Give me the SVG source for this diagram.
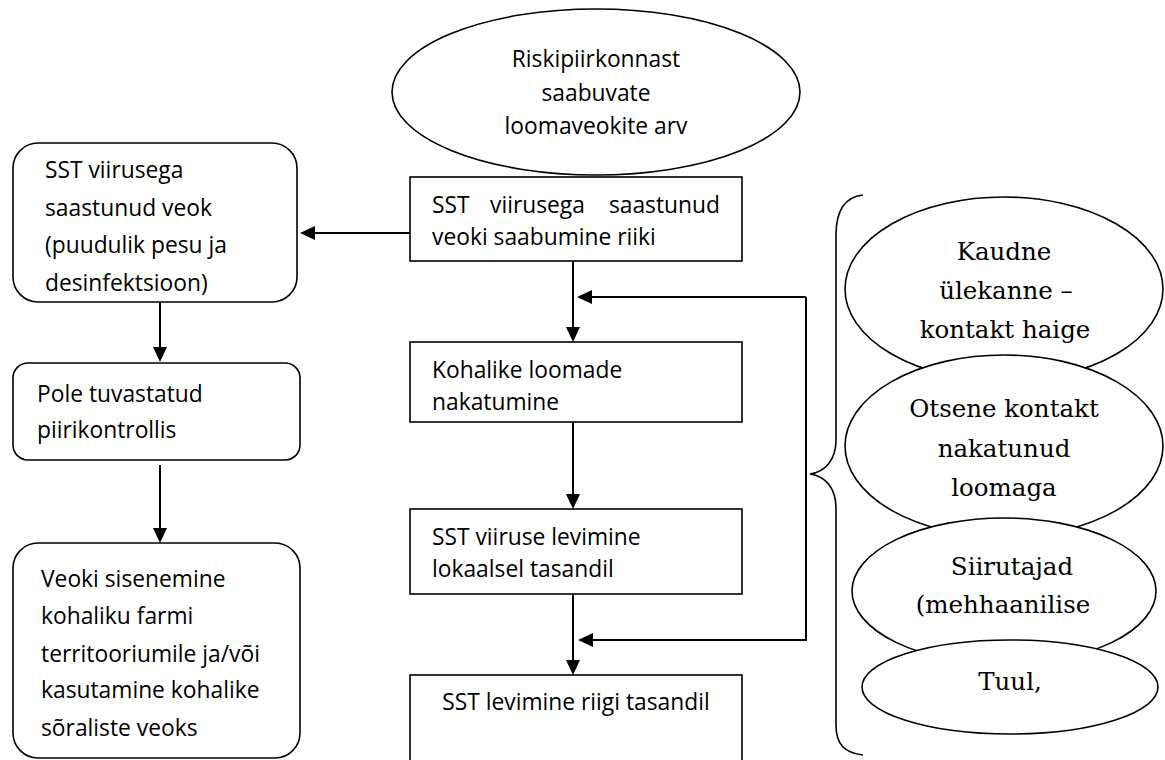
<svg xmlns="http://www.w3.org/2000/svg" width="1165" height="760" viewBox="0 0 1165 760">
<style>
.box{fill:#fff;stroke:#000;stroke-width:1.6}
.ell{fill:#fff;stroke:#000;stroke-width:1.6}
.t{font-family:"Open Sans","Liberation Sans",sans-serif;font-size:22.8px;fill:#000}
.s{font-family:"DejaVu Serif","Liberation Serif",serif;font-size:24.5px;fill:#000;text-anchor:middle}
.c{text-anchor:middle}
.ln{fill:none;stroke:#000;stroke-width:2}
</style>
<defs>
<marker id="ah" viewBox="0 0 15 14" refX="0" refY="7" markerWidth="15" markerHeight="14" markerUnits="userSpaceOnUse" orient="auto">
<path d="M0,0 L15,7 L0,14 z" fill="#000"/>
</marker>
</defs>
<rect width="1165" height="760" fill="#fff"/>

<g id="connectors">
<line class="ln" x1="410" y1="233" x2="315" y2="233" marker-end="url(#ah)"/>
<line class="ln" x1="573" y1="261" x2="573" y2="327" marker-end="url(#ah)"/>
<line class="ln" x1="573" y1="422" x2="573" y2="494" marker-end="url(#ah)"/>
<line class="ln" x1="573" y1="594" x2="573" y2="660" marker-end="url(#ah)"/>
<path class="ln" d="M806 297 L592 297" marker-end="url(#ah)"/>
<path class="ln" d="M806 297 L806 640 L593 640" marker-end="url(#ah)"/>
<line class="ln" x1="160" y1="302" x2="160" y2="347" marker-end="url(#ah)"/>
<line class="ln" x1="160" y1="465" x2="160" y2="528" marker-end="url(#ah)"/>
<path fill="none" stroke="#000" stroke-width="1.6" d="M863 195 C845 197 836 210 836 235 L836 440 C836 460 825 472 810 474 C825 476 836 488 836 508 L836 725 C836 745 845 753 863 755"/>
</g>

<g id="top-ellipse">
<ellipse class="ell" cx="596" cy="92" rx="204" ry="83"/>
<text class="t c" x="596" y="67">Riskipiirkonnast</text>
<text class="t c" x="596" y="101">saabuvate</text>
<text class="t c" x="596" y="134">loomaveokite arv</text>
</g>

<g id="box-arrival">
<rect class="box" x="410" y="177" width="332" height="84"/>
<text class="t" x="432" y="213">SST</text>
<text class="t" x="490" y="213">viirusega</text>
<text class="t" x="720" y="213" text-anchor="end">saastunud</text>
<text class="t" x="432" y="245">veoki saabumine riiki</text>
</g>

<g id="box-infection">
<rect class="box" x="410" y="342" width="332" height="80"/>
<text class="t" x="432" y="378">Kohalike loomade</text>
<text class="t" x="432" y="410">nakatumine</text>
</g>

<g id="box-local">
<rect class="box" x="410" y="509" width="332" height="85"/>
<text class="t" x="432" y="545">SST viiruse levimine</text>
<text class="t" x="432" y="577">lokaalsel tasandil</text>
</g>

<g id="box-national">
<rect class="box" x="410" y="675" width="332" height="95"/>
<text class="t c" x="576" y="710">SST levimine riigi tasandil</text>
</g>

<g id="left-vehicle">
<rect class="box" x="13" y="143" width="284" height="159" rx="25"/>
<text class="t" x="45" y="178">SST viirusega</text>
<text class="t" x="45" y="216">saastunud veok</text>
<text class="t" x="45" y="253">(puudulik pesu ja</text>
<text class="t" x="45" y="291">desinfektsioon)</text>
</g>

<g id="left-border">
<rect class="box" x="13" y="363" width="287" height="97" rx="15"/>
<text class="t" x="37" y="402">Pole tuvastatud</text>
<text class="t" x="37" y="438">piirikontrollis</text>
</g>

<g id="left-farm">
<rect class="box" x="13" y="543" width="287" height="215" rx="25"/>
<text class="t" x="41" y="587">Veoki sisenemine</text>
<text class="t" x="41" y="624">kohaliku farmi</text>
<text class="t" x="41" y="662">territooriumile ja/või</text>
<text class="t" x="41" y="698">kasutamine kohalike</text>
<text class="t" x="41" y="736">sõraliste veoks</text>
</g>

<g id="ell-indirect">
<ellipse class="ell" cx="1004" cy="289" rx="159" ry="92"/>
<text class="s" x="1004" y="260">Kaudne</text>
<text class="s" x="1006" y="299">ülekanne –</text>
<text class="s" x="1005" y="338">kontakt haige</text>
</g>

<g id="ell-direct">
<ellipse class="ell" cx="1004" cy="446" rx="159" ry="91"/>
<text class="s" x="1004" y="417">Otsene kontakt</text>
<text class="s" x="1004" y="457">nakatunud</text>
<text class="s" x="1004" y="496">loomaga</text>
</g>

<g id="ell-vectors">
<ellipse class="ell" cx="1004" cy="591" rx="152" ry="73"/>
<text class="s" x="1012" y="575">Siirutajad</text>
<text class="s" x="1003" y="613">(mehhaanilise</text>
</g>

<g id="ell-wind">
<ellipse class="ell" cx="1010" cy="687" rx="148" ry="47"/>
<text class="s" x="1010" y="690">Tuul,</text>
</g>
</svg>
